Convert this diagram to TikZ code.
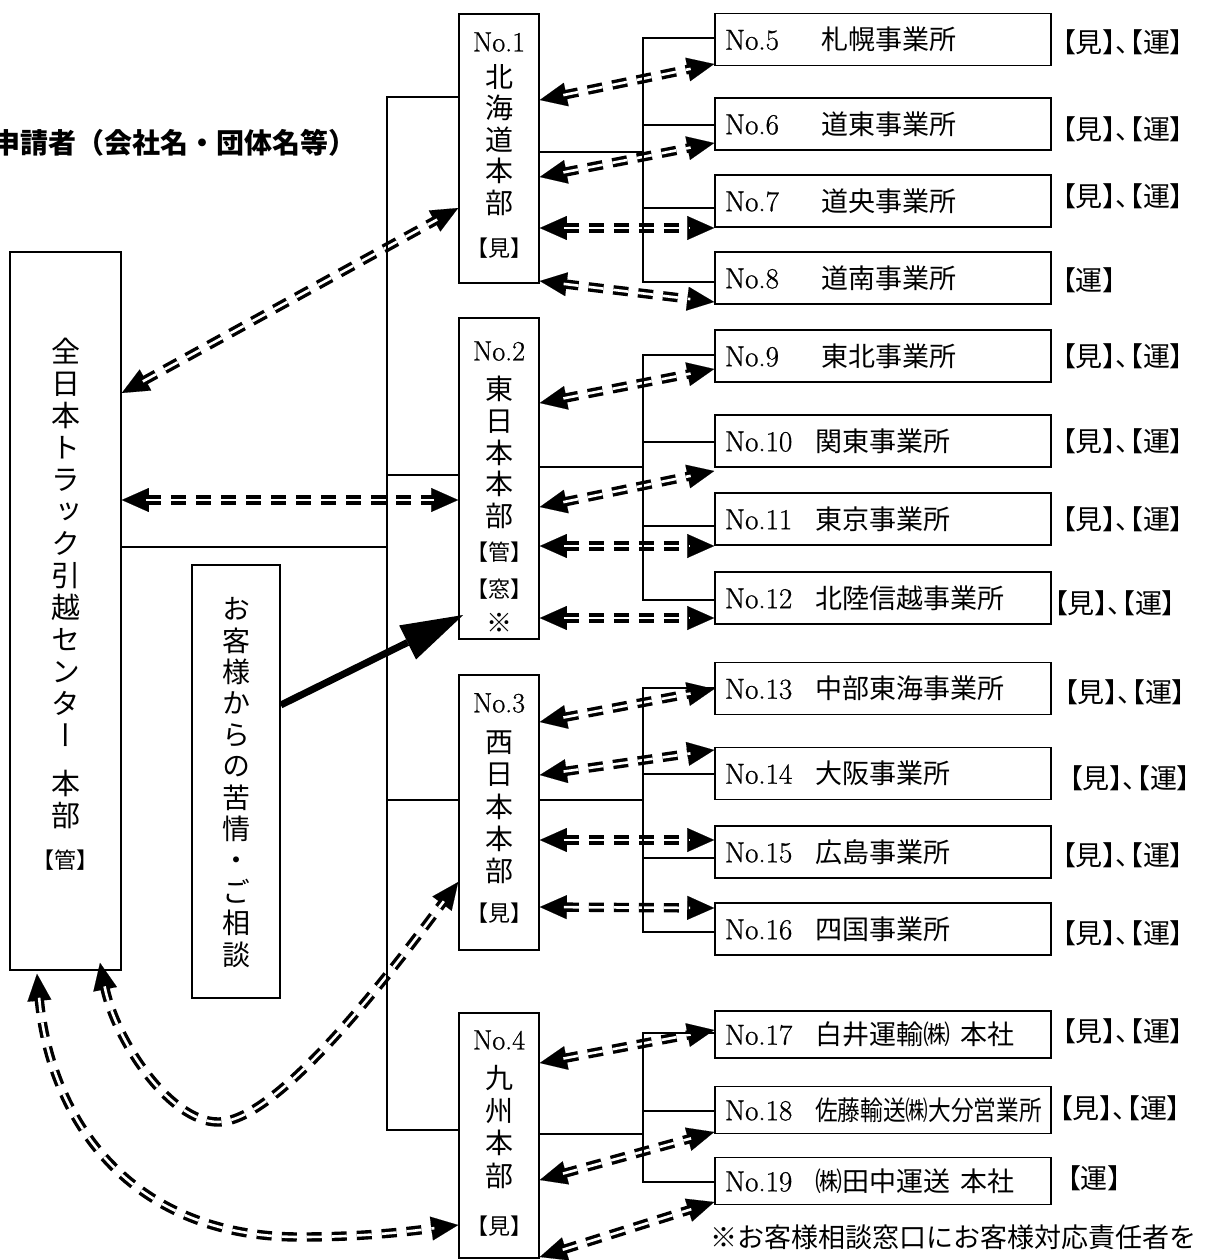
\documentclass[tikz,border=0pt]{standalone}
\usepackage{fontspec}
\usepackage{graphicx}
\usetikzlibrary{arrows.meta,calc}
\newfontfamily\jp{Noto Sans CJK JP}
\newfontfamily\vjp[RawFeature=+vert]{Noto Sans CJK JP}
\newfontfamily\pjp[RawFeature=+palt]{Noto Sans CJK JP}
\newfontfamily\lat[FakeBold=0.8]{Latin Modern Roman}
\newcommand\ojp[1]{{\jp\fontsize{27}{30}\selectfont #1}}
\tikzset{
 box/.style={draw, line width=1.6pt, inner sep=0pt},
 office/.style={box, minimum height=52pt, minimum width=336pt, text width=316pt, inner xsep=10pt, align=left, font=\lat\fontsize{29}{32}\selectfont},
 hq/.style={box, minimum width=80pt},
 vtext/.style={inner sep=0pt, align=center, font=\jp\fontsize{28}{31.5}\selectfont},
 notext/.style={inner sep=0pt, font=\lat\fontsize{28}{30}\selectfont},
 brk/.style={inner sep=0pt, font=\jp\fontsize{22}{24}\selectfont},
 lab/.style={inner sep=0pt, anchor=west, font=\pjp\fontsize{27}{30}\selectfont},
 tree/.style={line width=1.6pt},
 ddline/.style={line width=3.4pt, double=white, double distance=2.6pt, dash pattern=on 15pt off 10pt, shorten <=24pt, shorten >=24pt},
 ddtips/.style={draw=white, line width=0.1pt, {Triangle[length=27pt,width=24pt,color=black]}-{Triangle[length=27pt,width=24pt,color=black]}},
 bigarrow/.style={line width=7pt, -{Triangle[length=62pt,width=38pt,line width=0pt]}},
}
\newcommand\ddpath[1]{\draw[ddtips] #1; \draw[ddline] #1;}
\begin{document}
\begin{tikzpicture}[x=1pt,y=-1pt]
\useasboundingbox (0,0) rectangle (1204,1260);

% title
\node[anchor=west, inner sep=0pt, font=\jp\bfseries\fontsize{28}{30}\selectfont] (title) at (-8,143) {申請者（会社名・団体名等）};

% main box
\node[box, minimum width=111pt, minimum height=718pt] (main) at (65.5,611) {};
\node[vtext, font=\vjp\fontsize{29}{32}\selectfont] (maint) at (65.5,542) {全\\日\\本\\ト\\ラ\\ッ\\ク\\引\\越\\セ\\ン\\タ\\ー};
\node[vtext, font=\vjp\fontsize{29}{32}\selectfont] (mainb) at (65.5,799) {本\\部};
\node[brk] (mainc) at (65.5,860) {【管】};

% customer box
\node[box, minimum width=88pt, minimum height=433pt] (cust) at (236,781.5) {};
\node[vtext, font=\vjp\fontsize{28}{31.4}\selectfont] (custt) at (236,782.5) {お\\客\\様\\か\\ら\\の\\苦\\情\\・\\ご\\相\\談};

% regional boxes
\node[hq, minimum height=269pt] (h1) at (499,148.5) {};
\node[notext] (h1n) at (499,42) {No.1};
\node[vtext] (h1t) at (499,140) {北\\海\\道\\本\\部};
\node[brk] (h1b) at (499,248) {【見】};

\node[hq, minimum height=321pt] (h2) at (499,478.5) {};
\node[notext] (h2n) at (499,351) {No.2};
\node[vtext, font=\jp\fontsize{28}{31.75}\selectfont] (h2t) at (499,452.5) {東\\日\\本\\本\\部};
\node[brk] (h2b) at (499,552) {【管】};
\node[brk] (h2c) at (499,589) {【窓】};
\node[brk, font=\jp\fontsize{26}{28}\selectfont] (h2d) at (499,623) {※};

\node[hq, minimum height=275pt] (h3) at (499,812.5) {};
\node[notext] (h3n) at (499,703) {No.3};
\node[vtext, font=\jp\fontsize{28}{32.25}\selectfont] (h3t) at (499,807.5) {西\\日\\本\\本\\部};
\node[brk] (h3b) at (499,913) {【見】};

\node[hq, minimum height=245pt] (h4) at (499,1135.5) {};
\node[notext] (h4n) at (499,1040) {No.4};
\node[vtext, font=\jp\fontsize{28}{32.7}\selectfont] (h4t) at (499,1127) {九\\州\\本\\部};
\node[brk] (h4b) at (499,1226) {【見】};

% offices
\node[office] (o5) at (883,39.5) {\makebox[96pt][l]{No.5}\ojp{札幌事業所}};
\node[office] (o6) at (883,124) {\makebox[96pt][l]{No.6}\ojp{道東事業所}};
\node[office] (o7) at (883,201) {\makebox[96pt][l]{No.7}\ojp{道央事業所}};
\node[office] (o8) at (883,278) {\makebox[96pt][l]{No.8}\ojp{道南事業所}};
\node[office] (o9) at (883,356) {\makebox[96pt][l]{No.9}\ojp{東北事業所}};
\node[office] (o10) at (883,441) {\makebox[90pt][l]{No.10}\ojp{関東事業所}};
\node[office] (o11) at (883,519) {\makebox[90pt][l]{No.11}\ojp{東京事業所}};
\node[office] (o12) at (883,598) {\makebox[90pt][l]{No.12}\ojp{北陸信越事業所}};
\node[office] (o13) at (883,688.5) {\makebox[90pt][l]{No.13}\ojp{中部東海事業所}};
\node[office] (o14) at (883,773.5) {\makebox[90pt][l]{No.14}\ojp{大阪事業所}};
\node[office] (o15) at (883,852) {\makebox[90pt][l]{No.15}\ojp{広島事業所}};
\node[office] (o16) at (883,929) {\makebox[90pt][l]{No.16}\ojp{四国事業所}};
\node[office, minimum height=47pt] (o17) at (883,1034.5) {\makebox[90pt][l]{No.17}\ojp{白井運輸㈱\hspace{10pt}本社}};
\node[office, minimum height=47pt] (o18) at (883,1110) {\makebox[90pt][l]{No.18}\ojp{\scalebox{0.84}[1]{佐藤輸送㈱大分営業所}}};
\node[office, minimum height=47pt] (o19) at (883,1181) {\makebox[90pt][l]{No.19}\ojp{㈱田中運送\hspace{10pt}本社}};

% labels
\node[lab] (l5) at (1062,42) {【見】、【運】};
\node[lab] (l6) at (1062,129) {【見】、【運】};
\node[lab] (l7) at (1062,196) {【見】、【運】};
\node[lab] (l8) at (1062,280) {【運】};
\node[lab] (l9) at (1062,356) {【見】、【運】};
\node[lab] (l10) at (1062,441) {【見】、【運】};
\node[lab] (l11) at (1062,519) {【見】、【運】};
\node[lab] (l12) at (1054,603) {【見】、【運】};
\node[lab] (l13) at (1064,692) {【見】、【運】};
\node[lab] (l14) at (1069,778) {【見】、【運】};
\node[lab] (l15) at (1062,855) {【見】、【運】};
\node[lab] (l16) at (1062,933) {【見】、【運】};
\node[lab] (l17) at (1062,1031) {【見】、【運】};
\node[lab] (l18) at (1059,1108) {【見】、【運】};
\node[lab] (l19) at (1067,1178) {【運】};

% note
\node[anchor=west, inner sep=0pt, font=\jp\fontsize{27}{30}\selectfont] (note) at (710,1237) {※お客様相談窓口にお客様対応責任者を};

% dashed double arrows
\ddpath{(h1.east|-0,100) -- (o5.west|-0,64)}
\ddpath{(h1.east|-0,177) -- (o6.west|-0,143)}
\ddpath{(h1.east|-0,228) -- (o7.west|-0,228)}
\ddpath{(h1.east|-0,281) -- (o8.west|-0,302)}
\ddpath{(h2.east|-0,403) -- (o9.west|-0,369)}
\ddpath{(h2.east|-0,507) -- (o10.west|-0,471)}
\ddpath{(h2.east|-0,546) -- (o11.west|-0,546)}
\ddpath{(h2.east|-0,618) -- (o12.west|-0,618)}
\ddpath{(h3.east|-0,722) -- (o13.west|-0,689)}
\ddpath{(h3.east|-0,775) -- (o14.west|-0,750)}
\ddpath{(h3.east|-0,840) -- (o15.west|-0,840)}
\ddpath{(h3.east|-0,907) -- (o16.west|-0,908)}
\ddpath{(h4.east|-0,1063) -- (o17.west|-0,1030)}
\ddpath{(h4.east|-0,1180) -- (o18.west|-0,1132)}
\ddpath{(h4.east|-0,1257) -- (o19.west|-0,1202)}
\ddpath{(main.east|-0,393) -- (h1.west|-0,208)}
\ddpath{(main.east|-0,500) -- (h2.west|-0,500)}
\coordinate (m3) at ($(main.south)+(34.5,-8)$);
\coordinate (m4) at ($(main.south)+(-28.5,3)$);
\ddpath{(m3) .. controls (115,1040) and (170,1122) .. (218,1122) .. controls (280,1122) and (400,960) .. (h3.west|-0,882)}
\ddpath{(m4) .. controls (50,1120) and (130,1237) .. (300,1237) .. controls (370,1237) and (420,1230) .. (h4.west|-0,1225)}

% big arrow
\draw[bigarrow] (cust.east|-0,705) -- ($(h2.west)+(5,136.5)$);

% left tree
\coordinate (s1) at (387,97);
\coordinate (s4) at (387,1130);
\draw[tree] (h1.west|-s1) -- (s1) -- (s4) -- (h4.west|-s4);
\draw[tree] (main.east|-0,547) -- (s1|-0,547);
\draw[tree] (h2.west|-0,475) -- (s1|-0,475);
\draw[tree] (h3.west|-0,800) -- (s1|-0,800);

% right trees
\coordinate (r1) at (643,38); \coordinate (r1b) at (643,282);
\draw[tree] (o5.west|-r1) -- (r1) -- (r1b) -- (o8.west|-r1b);
\draw[tree] (o6.west|-0,125) -- (r1|-0,125);
\draw[tree] (o7.west|-0,208) -- (r1|-0,208);
\draw[tree] (h1.east|-0,152) -- (r1|-0,152);

\coordinate (r2) at (643,355); \coordinate (r2b) at (643,600);
\draw[tree] (o9.west|-r2) -- (r2) -- (r2b) -- (o12.west|-r2b);
\draw[tree] (o10.west|-0,442) -- (r2|-0,442);
\draw[tree] (o11.west|-0,526) -- (r2|-0,526);
\draw[tree] (h2.east|-0,467) -- (r2|-0,467);

\coordinate (r3) at (643,688); \coordinate (r3b) at (643,932);
\draw[tree] (o13.west|-r3) -- (r3) -- (r3b) -- (o16.west|-r3b);
\draw[tree] (o14.west|-0,774) -- (r3|-0,774);
\draw[tree] (o15.west|-0,858) -- (r3|-0,858);
\draw[tree] (h3.east|-0,800) -- (r3|-0,800);

\coordinate (r4) at (643,1033); \coordinate (r4b) at (643,1182);
\draw[tree] (o17.west|-r4) -- (r4) -- (r4b) -- (o19.west|-r4b);
\draw[tree] (o18.west|-0,1111) -- (r4|-0,1111);
\draw[tree] (h4.east|-0,1134) -- (r4|-0,1134);
\end{tikzpicture}
\end{document}
